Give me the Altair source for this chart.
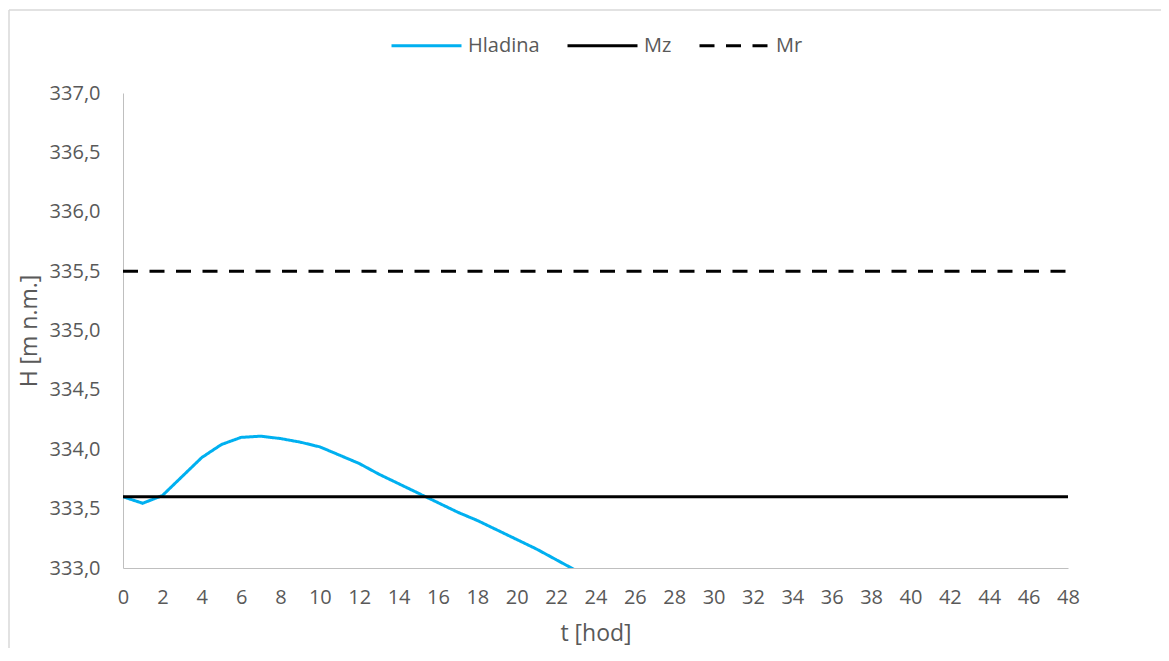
import altair as alt
import pandas as pd

# Data
t_hladina = list(range(0, 24))
h_hladina = [333.60, 333.545, 333.61, 333.77, 333.93, 334.04, 334.10, 334.11,
             334.09, 334.06, 334.02, 333.95, 333.88, 333.79, 333.71, 333.63,
             333.55, 333.47, 333.40, 333.32, 333.24, 333.16, 333.07, 332.98]
t_limits = [0, 48]
mz_level = [333.6, 333.6]
mr_level = [335.5, 335.5]
series_names = ["Hladina", "Mz", "Mr"]
x_ticks = list(range(0, 49, 2))
y_ticks = [333.0, 333.5, 334.0, 334.5, 335.0, 335.5, 336.0, 336.5, 337.0]

rows = []
for t, h in zip(t_hladina, h_hladina):
    rows.append({"t": t, "H": h, "serie": "Hladina"})
for t, h in zip(t_limits, mz_level):
    rows.append({"t": t, "H": h, "serie": "Mz"})
for t, h in zip(t_limits, mr_level):
    rows.append({"t": t, "H": h, "serie": "Mr"})
df = pd.DataFrame(rows)

FONT = "Open Sans"
GRAY = "#595959"
W, H = 945, 475

color_scale = alt.Scale(domain=series_names, range=["#00B0F0", "#000000", "#000000"])
dash_scale = alt.Scale(domain=series_names, range=[[1, 0], [1, 0], [15, 11.5]])

legend = alt.Legend(
    title=None, orient="none", direction="horizontal",
    legendX=267, legendY=-84,
    symbolType="stroke", symbolSize=4900, symbolStrokeWidth=3,
    labelFont=FONT, labelFontSize=20, labelColor=GRAY, labelOffset=5,
    columnPadding=21,
)

lines = alt.Chart(df).mark_line(clip=True, strokeWidth=3, strokeCap="butt").encode(
    x=alt.X("t:Q", scale=alt.Scale(domain=[0, 48], nice=False),
            axis=alt.Axis(title="t [hod]", values=x_ticks, grid=False, ticks=False,
                          domainColor="#BFBFBF", domainWidth=1,
                          labelFont=FONT, labelFontSize=20, labelColor=GRAY,
                          labelPadding=19, labelFlush=False,
                          titleFont=FONT, titleFontSize=23, titleFontWeight="normal",
                          titleColor=GRAY, titlePadding=15)),
    y=alt.Y("H:Q", scale=alt.Scale(domain=[333, 337], nice=False, zero=False),
            axis=alt.Axis(title="H [m n.m.]", values=y_ticks, grid=False, ticks=False,
                          domainColor="#BFBFBF", domainWidth=1,
                          labelExpr="replace(format(datum.value, '.1f'), '.', ',')",
                          labelFont=FONT, labelFontSize=20, labelColor=GRAY,
                          labelPadding=23,
                          titleFont=FONT, titleFontSize=23, titleFontWeight="normal",
                          titleColor=GRAY, titleX=-94, titleY=H / 2,
                          titleAngle=270, titleAlign="center", titleBaseline="middle")),
    color=alt.Color("serie:N", scale=color_scale, sort=series_names, legend=legend),
    strokeDash=alt.StrokeDash("serie:N", scale=dash_scale, sort=series_names, legend=legend),
    order=alt.Order("t:Q"),
)

frame_df = pd.DataFrame({"a": [0]})
frame_top = alt.Chart(frame_df).mark_rule(color="#D9D9D9", strokeWidth=1.5).encode(
    x=alt.value(-114), x2=alt.value(1046), y=alt.value(-83), y2=alt.value(-83))
frame_left = alt.Chart(frame_df).mark_rule(color="#D9D9D9", strokeWidth=1.5).encode(
    x=alt.value(-114), x2=alt.value(-114), y=alt.value(-83), y2=alt.value(560))

chart = alt.layer(frame_top, frame_left, lines).properties(
    width=W, height=H,
    autosize=alt.AutoSizeParams(type="none"),
    padding={"left": 115, "top": 85, "right": 93, "bottom": 80},
).configure_view(stroke=None)

chart.save("out.html", embed_options={"renderer": "svg", "actions": False})
